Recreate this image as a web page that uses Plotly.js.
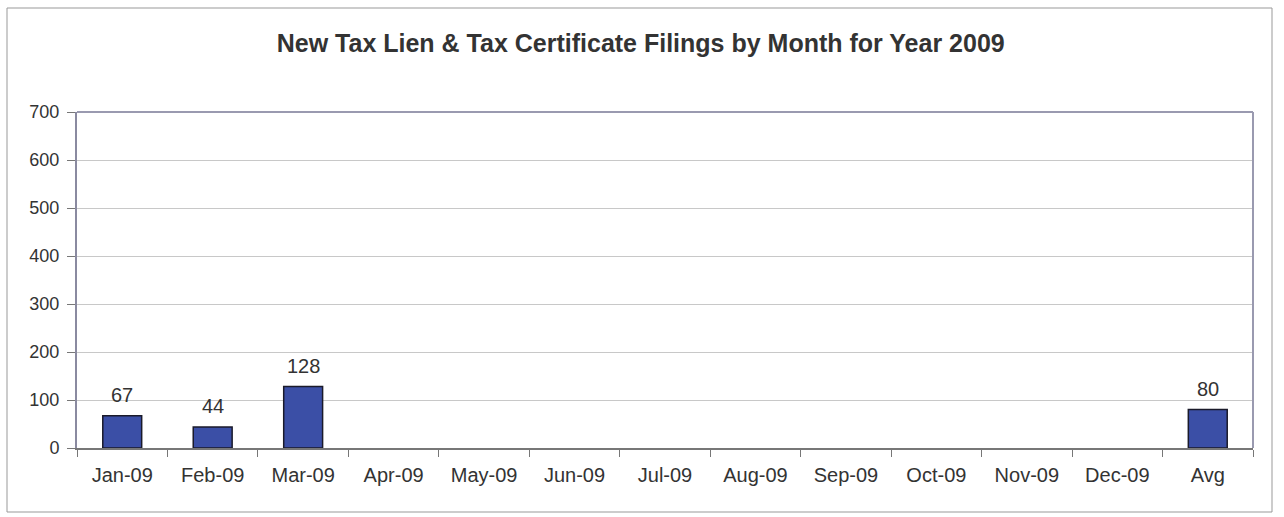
<!DOCTYPE html>
<html>
<head>
<meta charset="utf-8">
<script src="https://cdn.plot.ly/plotly-3.0.1.min.js"></script>
<style>
html,body{margin:0;padding:0;background:#fff;}
#chart{width:1284px;height:517px;}
</style>
</head>
<body>
<div id="chart"></div>
<script>
const categories = ["Jan-09","Feb-09","Mar-09","Apr-09","May-09","Jun-09","Jul-09","Aug-09","Sep-09","Oct-09","Nov-09","Dec-09","Avg"];
const filings = [67, 44, 128, null, null, null, null, null, null, null, null, null, 80];
const labels = ["67","44","128","","","","","","","","","","80"];
const yTicks = [0,100,200,300,400,500,600,700];

const W = 1284, H = 517;
const m = {l: 77, r: 31, t: 112, b: 69};
const pw = W - m.l - m.r, ph = H - m.t - m.b;
// outer frame in paper coords
const fx0 = (7 - m.l) / pw, fx1 = (1272 - m.l) / pw;
const fy1 = 1 + (m.t - 8) / ph, fy0 = -(512 - (H - m.b)) / ph;

const FONT = 'Liberation Sans, Arial, sans-serif';

const trace = {
  type: 'bar',
  x: categories,
  y: filings,
  marker: {color: '#3b4fa6', line: {color: '#1a1a2a', width: 1.5}},
  hoverinfo: 'x+y'
};

const annotations = categories.map((c, i) => filings[i] == null ? null : ({
  x: c, y: filings[i], xref: 'x', yref: 'y',
  text: labels[i], showarrow: false,
  yanchor: 'middle', yshift: 21,
  font: {family: FONT, size: 20, color: '#333'}
})).filter(a => a);

const layout = {
  width: W, height: H,
  margin: m,
  paper_bgcolor: '#fff',
  plot_bgcolor: '#fff',
  bargap: 0.57,
  showlegend: false,
  font: {family: FONT, size: 18, color: '#333'},
  title: {
    text: '<b>New Tax Lien & Tax Certificate Filings by Month for Year 2009</b>',
    x: 0.499, xref: 'container', xanchor: 'center', y: 1 - 43 / H, yanchor: 'middle',
    font: {family: FONT, size: 25, color: '#333'}
  },
  xaxis: {
    type: 'category',
    tickson: 'boundaries',
    ticks: 'outside', ticklen: 7, tickcolor: '#777',
    ticklabelstandoff: 8,
    showline: true, linecolor: '#777', linewidth: 2,
    showgrid: false,
    tickfont: {size: 20, color: '#333'},
    fixedrange: true
  },
  yaxis: {
    range: [0, 700],
    tickvals: yTicks,
    ticks: 'outside', ticklen: 8, tickcolor: '#777',
    ticklabelstandoff: 4,
    showline: true, linecolor: '#8a8aa0', linewidth: 2,
    showgrid: true, gridcolor: '#c8c8c8', gridwidth: 1,
    zeroline: false,
    tickfont: {size: 18, color: '#333'},
    fixedrange: true
  },
  annotations: annotations,
  shapes: [
    {type: 'line', xref: 'paper', yref: 'paper', x0: 0, x1: 1, y0: 1, y1: 1, line: {color: '#9a9ab0', width: 2}},
    {type: 'line', xref: 'paper', yref: 'paper', x0: 1, x1: 1, y0: 0, y1: 1, line: {color: '#9a9ab0', width: 2}},
    {type: 'rect', xref: 'paper', yref: 'paper', x0: fx0, x1: fx1, y0: fy0, y1: fy1, line: {color: '#999', width: 1}, layer: 'below'}
  ]
};

Plotly.newPlot('chart', [trace], layout, {displayModeBar: false, staticPlot: true});
</script>
</body>
</html>
